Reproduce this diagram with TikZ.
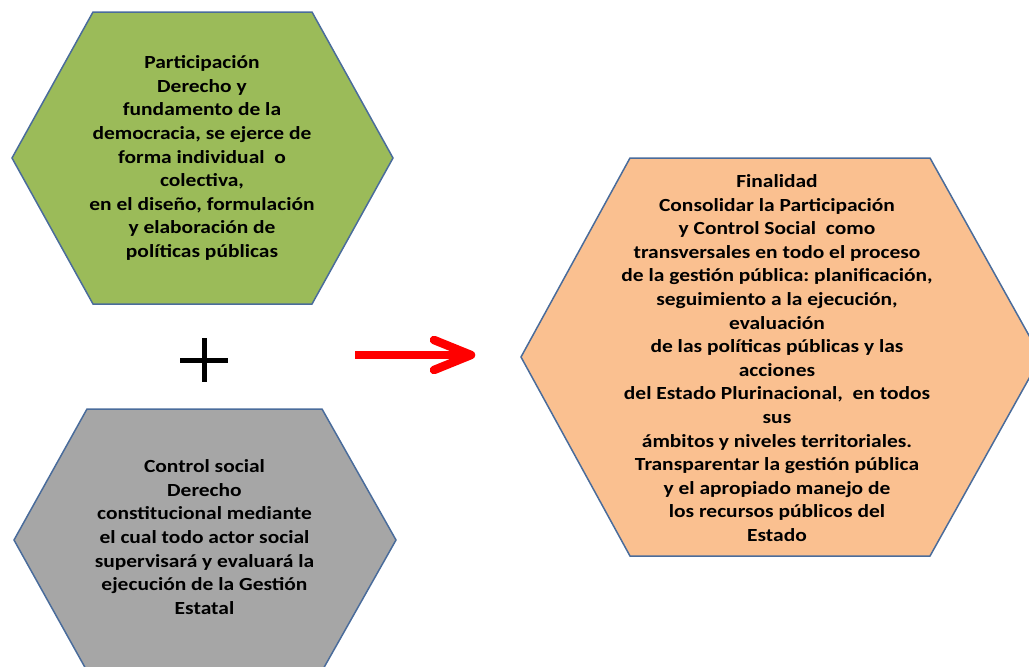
\documentclass[tikz,border=0pt]{standalone}
\usepackage{fontspec}
\setmainfont{Carlito}[FakeStretch=1.16]
\usetikzlibrary{arrows.meta}
\definecolor{hexgreen}{HTML}{9BBB59}
\definecolor{hexgray}{HTML}{A6A6A6}
\definecolor{hexorange}{HTML}{FAC090}
\definecolor{hexborder}{HTML}{4A6C9B}
\definecolor{arrowred}{HTML}{FF0000}
\tikzset{
  hexshape/.style={draw=hexborder, line width=1.5pt, line join=miter},
  hextext/.style={align=center, font=\bfseries\fontsize{18.5}{23.6}\selectfont, text=black, inner sep=0pt},
  plusbar/.style={line width=5pt, black},
  redarrow/.style={line width=8.5pt, arrowred}
}
\begin{document}
\begin{tikzpicture}[x=1pt,y=-1pt]
\useasboundingbox (0,0) rectangle (1029,667);
\clip (0,0) rectangle (1029,667);
% hexagons
\path[hexshape, fill=hexgreen] (93,12) -- (312,12) -- (393,158) -- (312,304) -- (93,304) -- (12,158) -- cycle;
\path[hexshape, fill=hexgray] (87,409) -- (322,409) -- (396,540) -- (322,671) -- (87,671) -- (14,540) -- cycle;
\path[hexshape, fill=hexorange] (630,158) -- (930,158) -- (1041,357) -- (930,556) -- (630,556) -- (521,357) -- cycle;
% texts
\node[hextext] (part) at (202,158) {Participación\\Derecho y\\fundamento de la\\democracia,\ se ejerce de\\forma individual\ \ o\\colectiva,\\en el diseño, formulación\\y elaboración de\\políticas\ públicas};
\node[hextext] (ctrl) at (204.5,537) {Control social\\Derecho\\constitucional\ mediante\\el cual todo actor social\\supervisará\ y evaluará\ la\\ejecución de la Gestión\\Estatal};
\node[hextext] (fin) at (777,358) {Finalidad\\Consolidar la Participación\\y Control Social\ \ como\\transversales\ en todo el proceso\\de la gestión pública:\ planificación,\\seguimiento a la ejecución,\\evaluación\\de las\ políticas públicas y las\\acciones\\del Estado\ Plurinacional,\ \ en todos\\sus\\ámbitos\ y\ niveles territoriales.\\Transparentar\ la gestión pública\\y el apropiado\ manejo\ de\\los recursos públicos del\\Estado};
% plus sign
\coordinate (plusc) at (204,360);
\draw[plusbar] ([xshift=-24pt]plusc) -- ([xshift=24pt]plusc);
\draw[plusbar] ([yshift=22pt]plusc) -- ([yshift=-22pt]plusc);
% arrow
\coordinate (arrstart) at (355,355);
\coordinate (arrtip) at (471,355);
\draw[redarrow] (arrstart) -- ([xshift=-6pt]arrtip);
\draw[redarrow, line cap=round, line join=round] ([xshift=-37pt,yshift=-15pt]arrtip) -- (arrtip) -- ([xshift=-37pt,yshift=15pt]arrtip);
\end{tikzpicture}
\end{document}
